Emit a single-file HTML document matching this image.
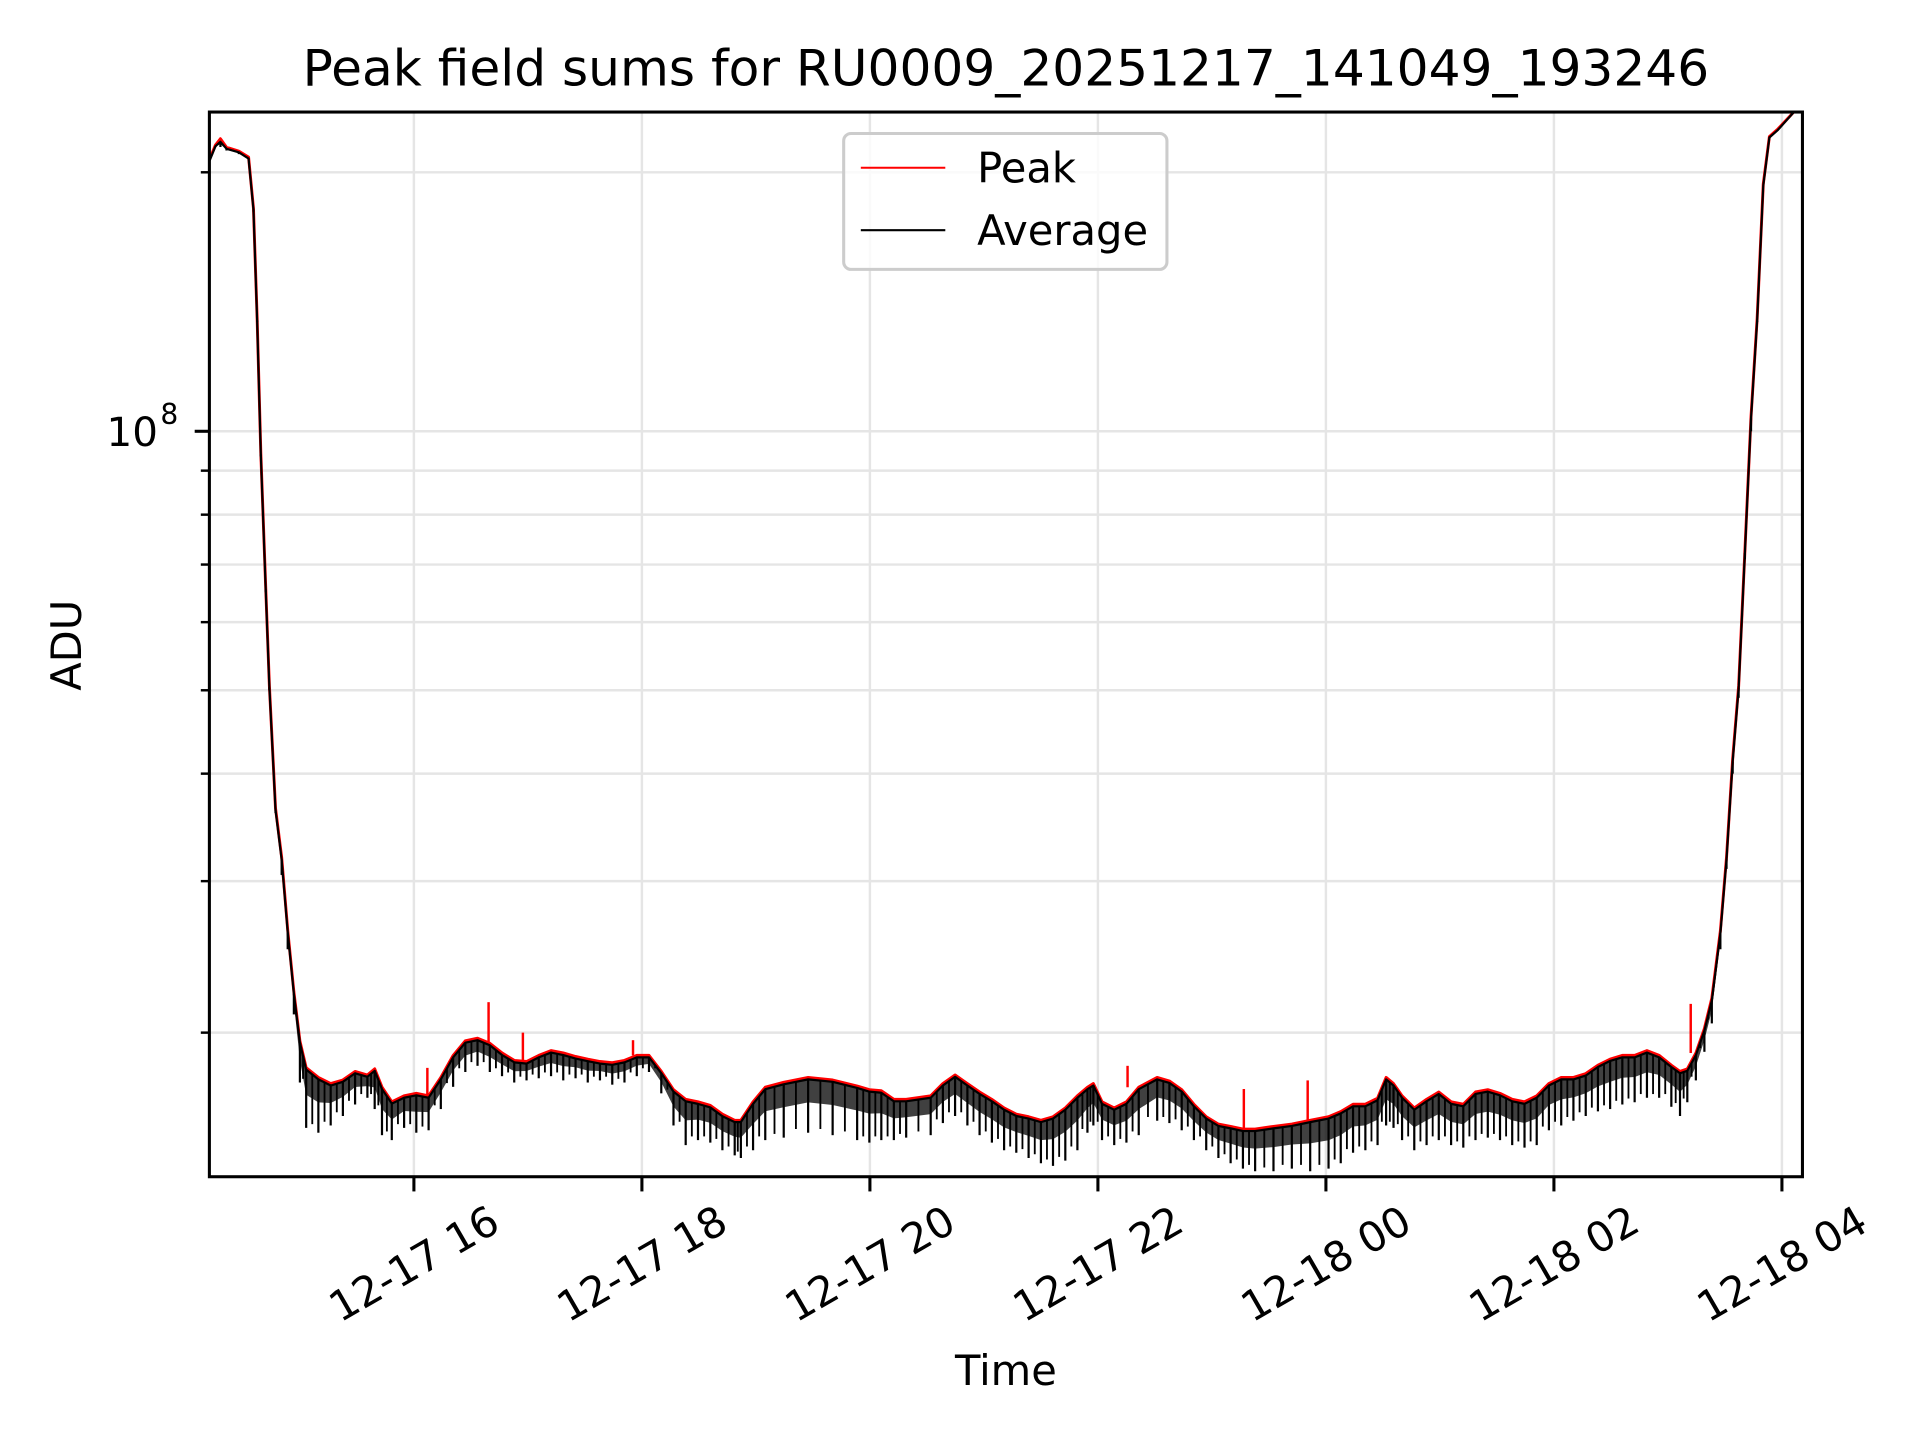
<!DOCTYPE html>
<html><head><meta charset="utf-8"><style>
html,body{margin:0;padding:0;background:#fff;}
svg{display:block;font-family:"DejaVu Sans","Liberation Sans",sans-serif;}
</style></head><body>
<svg id="chart" width="1920" height="1440" viewBox="0 0 1568 1176" xmlns="http://www.w3.org/2000/svg">
<rect width="1568" height="1176" fill="#fff"/>
<text x="821.5" y="70" font-size="41" text-anchor="middle">Peak field sums for RU0009_20251217_141049_193246</text>
<g id="grid"></g><g id="series"></g><g id="axes"></g>
<text x="821.5" y="1131" font-size="34" text-anchor="middle">Time</text>
<text transform="translate(66,527) rotate(-90)" font-size="34" text-anchor="middle">ADU</text>
<g>
<rect x="689" y="109" width="264" height="111" rx="6" fill="#fff" fill-opacity="0.8" stroke="#cccccc" stroke-width="2.5"/>
<line x1="703" y1="137" x2="772" y2="137" stroke="#ff0000" stroke-width="1.7"/>
<text x="798" y="149" font-size="34">Peak</text>
<line x1="703" y1="188" x2="772" y2="188" stroke="#000" stroke-width="1.7"/>
<text x="798" y="200" font-size="34">Average</text>
</g>
</svg>
<script>
// hours since 2025-12-17 00:00
const times=[14.206,14.26,14.303,14.356,14.464,14.55,14.593,14.625,14.657,14.7,14.732,14.786,14.84,14.893,14.947,15.0,15.055,15.162,15.27,15.377,15.484,15.592,15.656,15.72,15.806,15.914,16.021,16.129,16.236,16.344,16.451,16.558,16.666,16.773,16.88,16.988,17.095,17.203,17.31,17.418,17.525,17.632,17.74,17.847,17.955,18.062,18.17,18.277,18.384,18.492,18.6,18.706,18.814,18.868,18.975,19.082,19.244,19.458,19.673,19.888,19.995,20.1,20.21,20.318,20.533,20.64,20.747,20.855,20.962,21.07,21.177,21.284,21.392,21.5,21.606,21.714,21.82,21.908,21.96,22.036,22.143,22.25,22.358,22.52,22.627,22.735,22.842,22.95,23.057,23.164,23.272,23.379,23.54,23.701,23.862,24.023,24.13,24.238,24.346,24.453,24.528,24.593,24.668,24.775,24.883,24.99,25.098,25.205,25.312,25.42,25.527,25.634,25.742,25.849,25.956,26.064,26.171,26.279,26.386,26.493,26.6,26.708,26.816,26.923,27.03,27.106,27.17,27.245,27.32,27.385,27.46,27.514,27.568,27.62,27.675,27.729,27.783,27.836,27.89,27.965,28.105];
// values in millions of ADU
const peakVals=[206.9,215.2,218.8,213.8,211.7,208.3,181.5,135.2,94.3,65.8,50.6,36.47,31.99,26.28,22.3,19.57,18.21,17.74,17.45,17.62,18.03,17.86,18.15,17.28,16.62,16.89,17.0,16.89,17.74,18.82,19.57,19.7,19.44,18.94,18.57,18.51,18.82,19.06,18.94,18.76,18.63,18.51,18.45,18.57,18.82,18.82,18.03,17.17,16.73,16.62,16.46,16.08,15.82,15.82,16.62,17.28,17.51,17.74,17.62,17.34,17.17,17.12,16.73,16.73,16.89,17.45,17.86,17.45,17.06,16.73,16.35,16.08,15.97,15.82,15.97,16.35,16.89,17.28,17.45,16.62,16.35,16.62,17.28,17.74,17.57,17.17,16.51,15.97,15.66,15.56,15.45,15.45,15.56,15.66,15.82,15.97,16.19,16.51,16.51,16.78,17.74,17.45,16.89,16.35,16.73,17.06,16.62,16.51,17.06,17.17,17.0,16.73,16.62,16.89,17.45,17.74,17.74,17.92,18.33,18.63,18.82,18.82,19.06,18.82,18.33,18.03,18.15,18.94,20.22,21.94,26.28,31.99,41.58,50.6,72.6,104,135.2,193.8,220,224.6,235.1];
const avgVals=[206,214.5,217,213,211,207.5,181,134.5,94,65.5,50.4,36.3,31.8,26.15,22.2,19.48,18.12,17.65,17.36,17.53,17.94,17.77,18.06,17.19,16.54,16.8,16.91,16.8,17.65,18.72,19.47,19.6,19.34,18.84,18.47,18.41,18.72,18.96,18.84,18.66,18.53,18.41,18.35,18.47,18.72,18.72,17.94,17.08,16.64,16.53,16.37,15.99,15.74,15.74,16.53,17.19,17.42,17.65,17.53,17.25,17.08,17.03,16.64,16.64,16.8,17.36,17.77,17.36,16.97,16.64,16.27,16.0,15.89,15.74,15.89,16.27,16.8,17.19,17.36,16.53,16.27,16.53,17.19,17.65,17.48,17.08,16.42,15.89,15.58,15.48,15.37,15.37,15.48,15.58,15.74,15.89,16.11,16.42,16.42,16.69,17.65,17.36,16.8,16.27,16.64,16.97,16.53,16.42,16.97,17.08,16.91,16.64,16.53,16.8,17.36,17.65,17.65,17.83,18.24,18.54,18.72,18.72,18.96,18.72,18.24,17.94,18.06,18.84,20.1,21.8,26.1,31.8,41.3,50.3,72.2,103.5,134.5,193,219.5,224,235];
const avgLows=[205,214,214,212,210,207,180,134,93.5,65,50,36,30.5,25,21,17.5,15.5,15.3,15.6,16.0,16.5,16.8,16.3,15.2,15.0,15.5,15.3,15.4,16.3,17.3,18.0,18.3,18.0,17.8,17.5,17.6,17.7,17.8,17.6,17.7,17.5,17.6,17.4,17.5,17.8,18.0,17.0,15.6,14.8,15.0,14.9,14.6,14.4,14.3,14.6,15.0,15.1,15.3,15.2,15.0,14.9,15.0,15.0,15.1,15.2,15.7,16.0,15.6,15.2,14.9,14.6,14.5,14.3,14.1,14.0,14.2,14.6,15.3,15.6,15.0,14.8,14.9,15.2,15.8,15.7,15.4,15.0,14.6,14.3,14.1,13.9,13.8,13.8,13.9,13.8,13.9,14.1,14.5,14.6,14.8,15.6,15.5,15.0,14.6,14.8,15.0,14.8,14.7,15.0,15.1,15.0,14.8,14.7,14.8,15.4,15.6,15.8,16.0,16.2,16.3,16.5,16.6,16.8,16.8,16.4,16.0,16.6,17.6,19.0,20.5,25,31,40,49,71,100,134,193,219,224,235];
const spikeTimes=[16.118,16.655,16.956,17.922,22.26,23.28,23.84,27.2];
const spikeVals=[18.2,21.7,20.0,19.6,18.3,17.2,17.6,21.6];
const xTickHours=[16,18,20,22,24,26,28];
const xTickLabels=["12-17 16","12-17 18","12-17 20","12-17 22","12-18 00","12-18 02","12-18 04"];
const yMinorVals=[20,30,40,50,60,70,80,90,200];
const yMajorVals=[100];
const yMajorLabels=["10"];

const L=171,R=1472,T=91.5,B=961;
const X0=14.206,X1=28.18;
const Y0=Math.log10(13.6),Y1=Math.log10(235);
function sx(h){return L+(h-X0)/(X1-X0)*(R-L);}
function sy(v){return B-(Math.log10(v)-Y0)/(Y1-Y0)*(B-T);}
const NS="http://www.w3.org/2000/svg";
function mk(tag,parent,attrs){const e=document.createElementNS(NS,tag);for(const k in attrs)e.setAttribute(k,attrs[k]);parent.appendChild(e);return e;}
const grid=document.getElementById('grid'),series=document.getElementById('series'),axes=document.getElementById('axes');

xTickHours.forEach((h,i)=>{
  const x=sx(h);
  const g=mk('line',grid,{x1:x,x2:x,y1:T,y2:B,stroke:'#e5e5e5','stroke-width':2});
  
  
  const t=mk('line',axes,{x1:x,x2:x,y1:B,y2:B+12,stroke:'#000','stroke-width':2.5});
  
  
  const lb=mk('text',axes,{x:x,y:1032,'font-size':34,'text-anchor':'middle','dominant-baseline':'central',transform:`rotate(-30 ${x} 1032)`});
  lb.textContent=xTickLabels[i];
  
  
});
yMinorVals.forEach(v=>{
  const y=sy(v);
  const g=mk('line',grid,{x1:L,x2:R,y1:y,y2:y,stroke:'#e5e5e5','stroke-width':2});
  
  
  const t=mk('line',axes,{x1:L-7,x2:L,y1:y,y2:y,stroke:'#000','stroke-width':2});
  
  
});
yMajorVals.forEach((v,i)=>{
  const y=sy(v);
  const g=mk('line',grid,{x1:L,x2:R,y1:y,y2:y,stroke:'#e5e5e5','stroke-width':2});
  
  
  const t=mk('line',axes,{x1:L-12,x2:L,y1:y,y2:y,stroke:'#000','stroke-width':2.5});
  
  
  const lb=mk('text',axes,{x:L-42,y:y+12,'font-size':33,'text-anchor':'end'});
  lb.textContent=yMajorLabels[i];
  
  
  const ex=mk('text',axes,{x:L-40,y:y-6,'font-size':23,'text-anchor':'start'});
  ex.textContent='8';
  
  
});
const spine=mk('rect',axes,{x:L,y:T,width:R-L,height:B-T,fill:'none',stroke:'#000','stroke-width':2.5});



const defs=mk('defs',series,{});
const cp=mk('clipPath',defs,{id:'clip'});
mk('rect',cp,{x:L,y:T,width:R-L,height:B-T});
const sg=mk('g',series,{'clip-path':'url(#clip)'});

const peakPts=times.map((h,i)=>sx(h).toFixed(1)+','+sy(peakVals[i]).toFixed(1)).join(' ');
const pl=mk('polyline',sg,{points:peakPts,fill:'none',stroke:'#ff0000','stroke-width':2.4,'stroke-linejoin':'round'});


spikeTimes.forEach((h,i)=>{
  const j=times.findIndex(t=>t>=h);
  const base=peakVals[Math.max(0,j)];
  const s=mk('line',sg,{x1:sx(h),x2:sx(h),y1:sy(base),y2:sy(spikeVals[i]),stroke:'#ff0000','stroke-width':2});
  
  
});
const bandPts=times.map((h,i)=>sx(h).toFixed(1)+','+sy(avgVals[i]).toFixed(1)).concat(times.slice().reverse().map((h,k)=>{const i=times.length-1-k;return sx(h).toFixed(1)+','+sy(avgVals[i]+(avgLows[i]-avgVals[i])*0.45).toFixed(1);})).join(' ');
const band=mk('polygon',sg,{points:bandPts,fill:'#000','fill-opacity':0.75});


times.forEach((h,i)=>{
  if(avgLows[i]<avgVals[i]){
    const x=sx(h);
    const d=mk('line',sg,{x1:x,x2:x,y1:sy(avgVals[i]),y2:sy(avgLows[i]),stroke:'#000','stroke-width':1.8});
    
    
    if(i+1<times.length){
      const xm=(x+sx(times[i+1]))/2;
      const lm=Math.max(avgLows[i],avgLows[i+1])*1.01;
      const vm=(avgVals[i]+avgVals[i+1])/2;
      if(lm<vm){
        const d2=mk('line',sg,{x1:xm,x2:xm,y1:sy(vm),y2:sy(lm),stroke:'#000','stroke-width':1.5});
        
        
      }
    }
  }
});
const avgPts=times.map((h,i)=>sx(h).toFixed(1)+','+sy(avgVals[i]).toFixed(1)).join(' ');
const al=mk('polyline',sg,{points:avgPts,fill:'none',stroke:'#000','stroke-width':1.8,'stroke-linejoin':'round'});


</script>
</body></html>
